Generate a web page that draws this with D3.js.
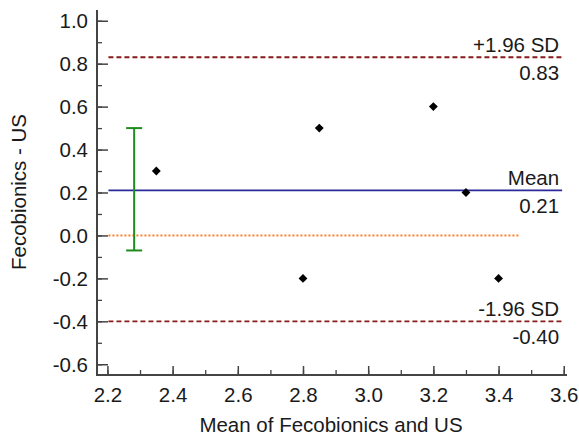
<!DOCTYPE html>
<html><head><meta charset="utf-8">
<script src="https://cdn.jsdelivr.net/npm/d3@7"></script>
<style>body{margin:0;background:#fff}text{font-family:"Liberation Sans",Arial,sans-serif}</style>
</head><body><svg id="c" width="579" height="435"></svg>
<script>
const pointsX = [2.35, 2.80, 2.85, 3.20, 3.30, 3.40];
const pointsY = [0.30, -0.20, 0.50, 0.60, 0.20, -0.20];
const meanDiff = 0.21, upperLoA = 0.83, lowerLoA = -0.40;
const ciX = 2.282, ciLow = -0.07, ciHigh = 0.50;
const zeroEnd = 3.465;
const xTicks = [2.2, 2.4, 2.6, 2.8, 3.0, 3.2, 3.4, 3.6];
const yTicks = [-0.6, -0.4, -0.2, 0.0, 0.2, 0.4, 0.6, 0.8, 1.0];

const FS = "20.5px";
const svg = d3.select("#c");
const L = 97, R = 567, T = 10, B = 375;
const x = d3.scaleLinear().domain([2.168, 3.61]).range([L, R]);
const y = d3.scaleLinear().domain([-0.65, 1.05]).range([B, T]);
const lineStart = 2.2, lineEnd = 3.595;

// y axis
const yMinor = d3.range(-0.6, 1.0001, 0.1).map(v => +v.toFixed(2));
svg.append("g").attr("transform", `translate(${L},0)`)
  .call(d3.axisRight(y).tickValues(yMinor).tickSize(5).tickFormat(""))
  .call(g => { g.select(".domain").remove(); g.selectAll("line").attr("stroke", "#444").attr("stroke-width", 1.3); });
const gy = svg.append("g").attr("transform", `translate(${L},0)`)
  .call(d3.axisRight(y).tickValues(yTicks).tickSize(11).tickFormat(d3.format(".1f")));
gy.select(".domain").remove();
gy.selectAll("line").attr("stroke", "#444").attr("stroke-width", 1.5);
gy.selectAll("text").attr("x", -9).attr("text-anchor", "end").attr("fill", "#1a1a1a")
  .style("font-size", FS).attr("dy", "0.35em").text(d => d.toFixed(1));

// x axis
const xMinor = d3.range(2.2, 3.6001, 0.1).map(v => +v.toFixed(2));
svg.append("g").attr("transform", `translate(0,${B})`)
  .call(d3.axisTop(x).tickValues(xMinor).tickSize(5).tickFormat(""))
  .call(g => { g.select(".domain").remove(); g.selectAll("line").attr("stroke", "#444").attr("stroke-width", 1.3); });
const gx = svg.append("g").attr("transform", `translate(0,${B})`)
  .call(d3.axisTop(x).tickValues(xTicks).tickSize(9).tickFormat(d3.format(".1f")));
gx.select(".domain").remove();
gx.selectAll("line").attr("stroke", "#444").attr("stroke-width", 1.5);
gx.selectAll("text").attr("y", 27).attr("dy", "0").attr("fill", "#1a1a1a").style("font-size", FS);

// axis lines
svg.append("path").attr("d", `M${L},${T}V${B}H${R}`).attr("fill", "none").attr("stroke", "#444").attr("stroke-width", 2);

// zero line
svg.append("line").attr("x1", x(lineStart)+1).attr("x2", x(zeroEnd)).attr("y1", y(0)).attr("y2", y(0))
  .attr("stroke", "#ff7f27").attr("stroke-width", 2).attr("stroke-dasharray", "2,2");

// LoA lines
[upperLoA, lowerLoA].forEach(v => {
  svg.append("line").attr("x1", x(lineStart)+1).attr("x2", x(lineEnd)).attr("y1", y(v)).attr("y2", y(v))
    .attr("stroke", "#8b1a1a").attr("stroke-width", 1.8).attr("stroke-dasharray", "5,3");
});
// mean line
svg.append("line").attr("x1", x(lineStart)+1).attr("x2", x(lineEnd)).attr("y1", y(meanDiff)).attr("y2", y(meanDiff))
  .attr("stroke", "#2a2a9a").attr("stroke-width", 1.8);

// CI error bar
const cg = svg.append("g").attr("stroke", "#1e8c1e").attr("stroke-width", 2);
cg.append("line").attr("x1", x(ciX)).attr("x2", x(ciX)).attr("y1", y(ciHigh)).attr("y2", y(ciLow));
[ciHigh, ciLow].forEach(v => cg.append("line").attr("x1", x(ciX)-8).attr("x2", x(ciX)+8).attr("y1", y(v)).attr("y2", y(v)));

// points
svg.append("g").selectAll("path").data(pointsX.map((d, i) => [d, pointsY[i]])).join("path")
  .attr("d", d3.symbol(d3.symbolDiamond2 || d3.symbolDiamond, 50))
  .attr("transform", d => `translate(${x(d[0])},${y(d[1])})`)
  .attr("fill", "#000");

// labels
const lab = (t, v, dy) => svg.append("text").attr("x", x(lineEnd) - 3).attr("y", y(v) + dy)
  .attr("text-anchor", "end").attr("fill", "#1a1a1a").style("font-size", FS).text(t);
lab("+1.96 SD", upperLoA, -5.5); lab(upperLoA.toFixed(2), upperLoA, 22.5);
lab("Mean", meanDiff, -5.5); lab(meanDiff.toFixed(2), meanDiff, 22.5);
lab("-1.96 SD", lowerLoA, -5.5); lab(lowerLoA.toFixed(2), lowerLoA, 22.5);

// titles
svg.append("text").attr("x", 331).attr("y", 432).attr("text-anchor", "middle")
  .attr("fill", "#1a1a1a").style("font-size", FS).text("Mean of Fecobionics and US");
svg.append("text").attr("transform", `translate(25.5,192) rotate(-90)`).attr("text-anchor", "middle")
  .attr("fill", "#1a1a1a").style("font-size", FS).text("Fecobionics - US");
</script></body></html>
